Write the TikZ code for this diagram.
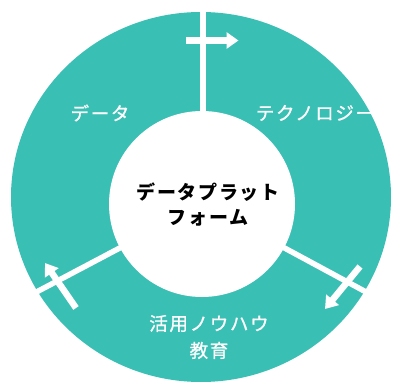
\documentclass[tikz,border=0pt]{standalone}
\usepackage{fontspec}
\usetikzlibrary{arrows.meta,shapes.geometric}
\newfontfamily\jpw[LetterSpace=9,FakeBold=1]{Noto Sans CJK JP}
\newfontfamily\jpb[LetterSpace=9]{Noto Sans CJK JP}
\definecolor{ringc}{HTML}{3ABFB5}
\tikzset{
  sep/.style={draw=white, line width=5.5pt},
  flow/.style={draw=white, line width=6.5pt, -{Triangle[width=16pt,length=12pt]}},
  wlabel/.style={text=white, inner sep=0pt, font=\jpw\fontsize{18.5pt}{27pt}\selectfont, align=center},
  clabel/.style={text=black, inner sep=0pt, font=\jpb\bfseries\fontsize{19pt}{25pt}\selectfont, align=center}
}
\begin{document}
\begin{tikzpicture}[x=1pt,y=-1pt]
\path[use as bounding box] (0,0) rectangle (394,385);
\node[ellipse, fill=ringc, minimum width=380pt, minimum height=370pt, inner sep=0pt] (ring) at (201,197) {};
\coordinate (c) at (203,204);
\coordinate (s1) at (203,-5);
\coordinate (s2) at (392,306);
\coordinate (s3) at (10,306);
\draw[sep] (c) -- (s1);
\draw[sep] (c) -- (s2);
\draw[sep] (c) -- (s3);
\node[circle, fill=white, minimum size=186pt, inner sep=0pt] (core) at (202,204) {};
\node[clabel] (title) at (208,205) {データプラット\\フォーム};
\node[wlabel] (data) at (100,113) {データ};
\node[wlabel] (tech) at (315,113) {テクノロジー};
\node[wlabel] (know) at (209,337) {活用ノウハウ\\教育};
\coordinate (a1s) at (186,40.5);
\coordinate (a1e) at (238.5,40.5);
\coordinate (a2s) at (360,266.5);
\coordinate (a2e) at (325,309);
\coordinate (a3s) at (76,308);
\coordinate (a3e) at (45,263);
\draw[flow] (a1s) -- (a1e);
\draw[flow] (a2s) -- (a2e);
\draw[flow] (a3s) -- (a3e);
\end{tikzpicture}
\end{document}
